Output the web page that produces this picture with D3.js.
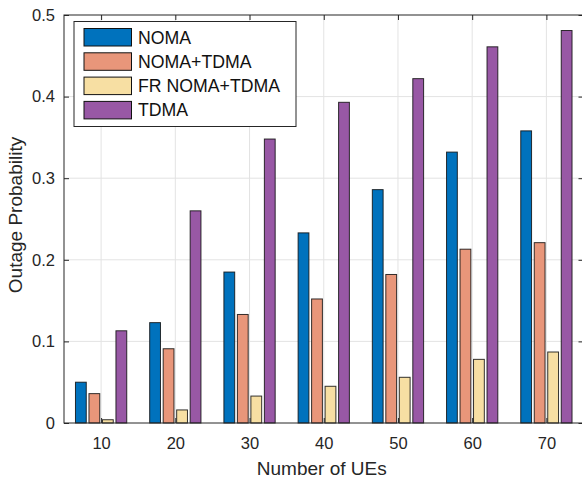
<!DOCTYPE html>
<html><head><meta charset="utf-8">
<script src="https://cdn.jsdelivr.net/npm/d3@7"></script>
<style>body{margin:0;background:#fff}svg{display:block;font-family:"Liberation Sans",Arial,sans-serif}</style>
</head><body><svg id="c" width="582" height="480"></svg>
<script>
const categories = [10, 20, 30, 40, 50, 60, 70];
const seriesNames = ["NOMA", "NOMA+TDMA", "FR NOMA+TDMA", "TDMA"];
const noma      = [0.050, 0.123, 0.185, 0.233, 0.286, 0.332, 0.358];
const nomaTdma  = [0.036, 0.091, 0.133, 0.152, 0.182, 0.213, 0.221];
const frNomaTdma= [0.004, 0.016, 0.033, 0.045, 0.056, 0.078, 0.087];
const tdma      = [0.113, 0.260, 0.348, 0.393, 0.422, 0.461, 0.481];
const yTicks = [0, 0.1, 0.2, 0.3, 0.4, 0.5];
const colors = ["#0072BD", "#E8967A", "#F7DFA3", "#9858A5"];

const series = [noma, nomaTdma, frNomaTdma, tdma];
const L = 64, R = 583.5, T = 15, B = 423;
const svg = d3.select("#c");
const x = d3.scaleLinear().domain([5, 75]).range([L, R]);
const y = d3.scaleLinear().domain([0, 0.5]).range([B, T]);
const axisCol = "#262626";

// grid
const g = svg.append("g");
g.selectAll(".gx").data(categories).join("line")
  .attr("x1", d => x(d)).attr("x2", d => x(d)).attr("y1", T).attr("y2", B)
  .attr("stroke", "#e3e3e3").attr("stroke-width", 1);
g.selectAll(".gy").data(yTicks.slice(1, -1)).join("line")
  .attr("x1", L).attr("x2", R).attr("y1", d => y(d)).attr("y2", d => y(d))
  .attr("stroke", "#e3e3e3").attr("stroke-width", 1);

// bars
const groupW = 10 * 4 / 5.5;
const slot = groupW / 4;
const barW = slot * 0.8;
series.forEach((vals, si) => {
  svg.append("g").selectAll("rect").data(vals).join("rect")
    .attr("x", (d, i) => x(categories[i] - groupW / 2 + slot * si + (slot - barW) / 2))
    .attr("width", x(barW) - x(0))
    .attr("y", d => y(d))
    .attr("height", d => y(0) - y(d))
    .attr("fill", colors[si])
    .attr("stroke", "#111").attr("stroke-opacity", 0.85).attr("stroke-width", 1);
});

// axes
const xb = svg.append("g").attr("transform", `translate(0,${B})`)
  .call(d3.axisBottom(x).tickValues(categories).tickSize(-5).tickPadding(14).tickFormat(d3.format("d")));
const xt = svg.append("g").attr("transform", `translate(0,${T})`)
  .call(d3.axisTop(x).tickValues(categories).tickSize(-5).tickFormat(""));
const yl = svg.append("g").attr("transform", `translate(${L},0)`)
  .call(d3.axisLeft(y).tickValues(yTicks).tickSize(-5).tickPadding(9).tickFormat(d => d === 0 ? "0" : d3.format(".1f")(d)));
const yr = svg.append("g").attr("transform", `translate(${R},0)`)
  .call(d3.axisRight(y).tickValues(yTicks).tickSize(-5).tickFormat(""));
[xb, xt, yl, yr].forEach(a => {
  a.select(".domain").attr("stroke", axisCol).attr("stroke-width", 1).attr("d", null);
  a.selectAll(".tick line").attr("stroke", axisCol);
  a.attr("font-size", 16).attr("font-family", "Liberation Sans, Arial, sans-serif");
  a.selectAll("text").attr("fill", axisCol).style("font-size", "16.5px");
});
// frame
svg.append("rect").attr("x", L).attr("y", T).attr("width", R - L).attr("height", B - T)
  .attr("fill", "none").attr("stroke", axisCol).attr("stroke-width", 1);

// labels
svg.append("text").attr("x", x(40) - 2).attr("y", 475).attr("text-anchor", "middle")
  .style("font-size", "19px").attr("fill", axisCol).text("Number of UEs");
svg.append("text").attr("transform", `translate(22,${(T + B) / 2 - 4}) rotate(-90)`)
  .attr("text-anchor", "middle").style("font-size", "19px").attr("fill", axisCol).text("Outage Probability");

// legend
const lg = svg.append("g");
lg.append("rect").attr("x", 74).attr("y", 21.5).attr("width", 222).attr("height", 105)
  .attr("fill", "#fff").attr("stroke", "#262626").attr("stroke-width", 1);
seriesNames.forEach((n, i) => {
  const yy = 28.5 + i * 24.3;
  lg.append("rect").attr("x", 84).attr("y", yy).attr("width", 47.5).attr("height", 17.5)
    .attr("fill", colors[i]).attr("stroke", "#111").attr("stroke-width", 1);
  lg.append("text").attr("x", 138).attr("y", yy + 15).style("font-size", "17.7px")
    .attr("fill", "#111").text(n);
});
</script></body></html>
